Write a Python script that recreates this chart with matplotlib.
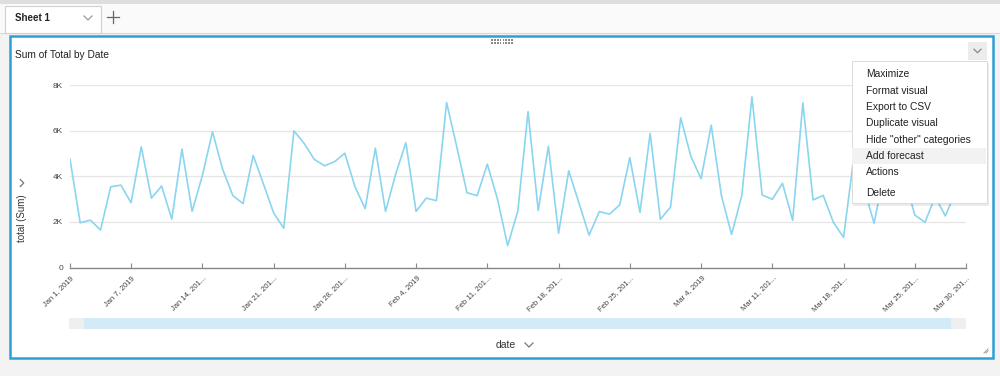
import matplotlib
matplotlib.use("Agg")
import matplotlib.pyplot as plt
import matplotlib.patches as mpatches
from matplotlib.lines import Line2D
import pandas as pd

plt.rcParams['font.family'] = ['Liberation Sans', 'DejaVu Sans']

# data (hidden values under the menu are guesses)
dates = pd.date_range('2019-01-01', '2019-03-30', freq='D')
totals = [4750, 1960, 2080, 1640, 3540, 3610, 2840, 5290, 3040, 3570,
          2120, 5190, 2460, 4020, 5950, 4300, 3150, 2800, 4910, 3670,
          2400, 1720, 5990, 5440, 4740, 4460, 4640, 5010, 3540, 2580,
          5230, 2460, 4100, 5470, 2460, 3040, 2930, 7230, 5290, 3280,
          3150, 4530, 3000, 960, 2480, 6830, 2500, 5310, 1500, 4240,
          2830, 1420, 2450, 2340, 2740, 4810, 2420, 5880, 2110, 2650,
          6560, 4870, 3890, 6240, 3150, 1450, 3150, 7480, 3180, 2990,
          3690, 2070, 7220, 2960, 3160, 1980, 1320, 4800, 3500, 1940,
          4200, 5000, 3900, 2300, 1980, 3100, 2260, 3300, 3000]
tick_dates = pd.to_datetime(['2019-01-01', '2019-01-07', '2019-01-14', '2019-01-21',
                             '2019-01-28', '2019-02-04', '2019-02-11', '2019-02-18',
                             '2019-02-25', '2019-03-04', '2019-03-11', '2019-03-18',
                             '2019-03-25', '2019-03-30'])
tick_labels = ['Jan 1, 2019', 'Jan 7, 2019', 'Jan 14, 201...', 'Jan 21, 201...',
               'Jan 28, 201...', 'Feb 4, 2019', 'Feb 11, 201...', 'Feb 18, 201...',
               'Feb 25, 201...', 'Mar 4, 2019', 'Mar 11, 201...', 'Mar 18, 201...',
               'Mar 25, 201...', 'Mar 30, 201...']
y_ticks = [0, 2000, 4000, 6000, 8000]
y_labels = ['0', '2K', '4K', '6K', '8K']
menu_items = ['Maximize', 'Format visual', 'Export to CSV', 'Duplicate visual',
              'Hide "other" categories', 'Add forecast', 'Actions', 'Delete']

W, H = 1000, 376
fig = plt.figure(figsize=(10, 3.76), dpi=100)
fig.patch.set_facecolor('#f3f3f3')


def fx(x):
    return x / W


def fy(y):
    return 1 - y / H


def rect(x0, y0, x1, y1, z=-1, **kw):
    r = mpatches.Rectangle((fx(x0), fy(y1)), (x1 - x0) / W, (y1 - y0) / H,
                           transform=fig.transFigure, zorder=z, **kw)
    fig.patches.append(r)
    return r


def line(xs, ys, z=0, **kw):
    fig.lines.append(Line2D([fx(v) for v in xs], [fy(v) for v in ys],
                            transform=fig.transFigure, zorder=z, **kw))


def chevron(x, y, s=4, color='#777777', down=True, z=0):
    if down:
        line([x - s, x, x + s], [y - s / 2, y + s / 2, y - s / 2], z=z, color=color, lw=0.9)
    else:
        line([x - s / 2, x + s / 2, x - s / 2], [y - s, y, y + s], z=z, color=color, lw=0.9)


# page chrome
rect(0, 0, 1000, 4, facecolor='#dedede', edgecolor='none', z=-3)
rect(0, 4, 1000, 33, facecolor='#fafafa', edgecolor='none', z=-3)
line([0, 1000], [33, 33], color='#d8d8d8', lw=0.8, z=-2)
rect(5, 6, 101, 33, facecolor='white', edgecolor='#d0d0d0', lw=0.8, z=-2)
fig.text(fx(15), fy(18), 'Sheet 1', fontsize=7, fontweight='bold', color='#222222',
         va='center', ha='left')
chevron(88, 18, s=4, color='#999999')
line([107, 119], [17, 17], color='#666666', lw=0.9)
line([113, 113], [11, 23], color='#666666', lw=0.9)

# visual frame
rect(9.5, 36, 992.5, 358, facecolor='white', edgecolor='#2e9fd6', lw=1.8, z=-2)
for i in range(8):
    for j in range(2):
        rect(491 + i * 2.9, 39 + j * 3.2, 492.8 + i * 2.9, 40.8 + j * 3.2,
             facecolor='#8a8a8a', edgecolor='none', z=-1)
rect(968, 42, 987, 60, facecolor='#ececec', edgecolor='none', z=-1)
chevron(977.5, 51, s=3.5, color='#888888', z=1)
line([984, 988], [353, 349], color='#999999', lw=0.7)
line([986, 988], [353, 351], color='#999999', lw=0.7)

fig.text(fx(15), fy(55), 'Sum of Total by Date', fontsize=7.3, color='#222222',
         va='center', ha='left')
fig.text(fx(22), fy(218), 'total (Sum)', fontsize=7, color='#333333', rotation=90,
         va='center', ha='center')
chevron(22, 183, s=3.5, color='#777777', down=False)
fig.text(fx(506), fy(345), 'date', fontsize=7.5, color='#333333', va='center', ha='center')
chevron(529, 345, s=4, color='#777777')

# scroll bar
rect(69, 318, 84, 329, facecolor='#efefef', edgecolor='none')
rect(84, 318, 951, 329, facecolor='#d3eaf7', edgecolor='none')
rect(951, 318, 966, 329, facecolor='#efefef', edgecolor='none')

# chart
ax = fig.add_axes([fx(70), fy(267.5), (965.7 - 70) / W, (267.5 - 85) / H])
ax.set_facecolor('none')
ax.plot(dates, totals, color='#8ad5ef', lw=1.2)
ax.set_xlim(dates[0], dates[-1])
ax.set_ylim(0, 8000)
ax.set_yticks(y_ticks)
ax.set_yticklabels(y_labels)
ax.yaxis.grid(True, color='#e6e6e6', lw=0.9)
ax.set_axisbelow(True)
for s in ['top', 'right', 'left']:
    ax.spines[s].set_visible(False)
ax.spines['bottom'].set_color('#888888')
ax.spines['bottom'].set_linewidth(1)
ax.set_xticks(tick_dates)
ax.set_xticklabels(tick_labels, rotation=45, ha='right', va='top',
                   rotation_mode='anchor')
ax.tick_params(axis='x', direction='in', length=3.5, color='#888888', width=0.8,
               labelsize=5.5, labelcolor='#444444', pad=5)
ax.tick_params(axis='y', length=0, labelsize=6, labelcolor='#444444', pad=5)

# context menu
rect(853, 63, 989, 206, facecolor='#000000', alpha=0.08, edgecolor='none', z=4)
rect(851.5, 61, 986.5, 203, facecolor='white', edgecolor='#d6d6d6', lw=0.6, z=5)
rect(852, 148, 986, 164, facecolor='#f2f2f2', edgecolor='none', z=5)
line([852, 986], [182.5, 182.5], color='#d6d6d6', lw=0.7, z=5)
menu_y = [74, 90.5, 107, 123.5, 140, 156, 172.5, 192.5]
for label, yy in zip(menu_items, menu_y):
    fig.text(fx(866), fy(yy), label, fontsize=7.4, color='#222222', va='center',
             ha='left', zorder=6)

fig.savefig('out.png', dpi=100)
